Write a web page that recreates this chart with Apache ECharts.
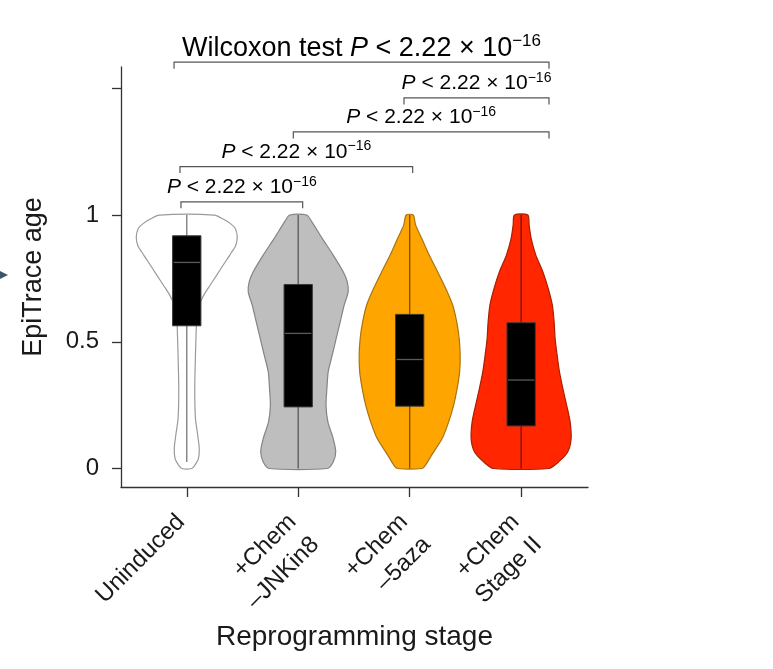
<!DOCTYPE html>
<html><head><meta charset="utf-8">
<script src="https://cdn.jsdelivr.net/npm/echarts@6/dist/echarts.min.js"></script>
<style>html,body{margin:0;padding:0;background:#fff}#c{width:773px;height:669px}</style>
</head><body><div id="c"></div>
<script>
// ---- data ----
const categories = ['Uninduced', '+Chem\n\u2013JNKin8', '+Chem\n\u20135aza', '+Chem\nStage II'];
const yTickValues = [0, 0.5, 1, 1.5];
const yLabelValues = [0, 0.5, 1];

// violin outlines: [EpiTrace age, relative density width]
const profileUninduced = [[1.0,27.5],[0.985,36],[0.965,44],[0.947,48.5],[0.914,50.5],[0.88,49],[0.842,43],[0.803,36.5],[0.763,30],[0.724,23.5],[0.684,17],[0.645,12.5],[0.6,10],[0.553,9.5],[0.447,8.7],[0.316,8],[0.197,8.7],[0.13,11],[0.079,12.5],[0.039,11.7],[0.012,8],[0,5]];
const profileJNKin8 = [[1.0,8.5],[0.974,13.5],[0.908,24],[0.842,35],[0.776,45],[0.737,49],[0.697,50],[0.645,46],[0.579,42],[0.513,38],[0.447,34],[0.382,30],[0.316,28.7],[0.25,27.8],[0.184,29.7],[0.118,35],[0.066,37.5],[0.026,35],[0,29]];
const profile5aza = [[1.0,3.5],[0.96,6],[0.908,12],[0.842,19.5],[0.776,28],[0.711,36],[0.645,43],[0.579,47],[0.513,49.5],[0.447,50.5],[0.382,50],[0.316,47.5],[0.25,44],[0.184,39],[0.118,32.5],[0.053,22],[0.013,15.8],[0,12.5]];
const profileStageII = [[1.0,6.7],[0.96,8],[0.908,10],[0.842,14.7],[0.776,21.7],[0.711,27],[0.645,31.2],[0.579,33],[0.513,34],[0.447,36],[0.382,38.3],[0.316,41.7],[0.25,45.5],[0.184,49],[0.118,50],[0.066,46.7],[0.026,37.5],[0,27.5]];

// box stats: [lower whisker, Q1, median, Q3, upper whisker]
const boxUninduced = [0.026, 0.563, 0.813, 0.918, 1.0];
const boxJNKin8 = [0, 0.243, 0.533, 0.726, 1.0];
const box5aza = [0, 0.246, 0.430, 0.608, 1.0];
const boxStageII = [0, 0.168, 0.349, 0.575, 1.0];

// significance brackets
const bracketFrom = [0.886, 2.949, 1.956, 0.939, 0.948];
const bracketTo = [4.25, 4.25, 4.25, 3.027, 2.04];
const bracketLevel = [1.603, 1.462, 1.328, 1.191, 1.052];
const bracketPrefix = ['Wilcoxon test ', '', '', '', ''];
const pText = ' < 2.22 \u00d7 10';
const pExponent = '\u221216';

// ---- styles ----
const profiles = [profileUninduced, profileJNKin8, profile5aza, profileStageII];
const boxes = [boxUninduced, boxJNKin8, box5aza, boxStageII];
const fills = ['#ffffff', '#bebebe', '#ffa500', '#ff2600'];
const strokes = ['#9a9a9a', '#858585', '#a87412', '#a82000'];
const violinHalf = 0.453;
const boxHalf = 0.127;
const FONT = 'Liberation Sans, Arial, sans-serif';
const TXT = '#1a1a1a';

const chart = echarts.init(document.getElementById('c'), null, {renderer: 'canvas'});

function violinItem(params, api) {
  const i = params.dataIndex;
  const xc = api.value(0);
  const prof = profiles[i];
  let maxD = 0;
  profiles.forEach(p => p.forEach(r => { if (r[1] > maxD) maxD = r[1]; }));
  const right = prof.map(r => api.coord([xc + r[1] / maxD * violinHalf, r[0]]));
  const left = prof.slice().reverse().map(r => api.coord([xc - r[1] / maxD * violinHalf, r[0]]));
  return {
    type: 'polygon',
    shape: {points: right.concat(left), smooth: 0.25},
    style: {fill: fills[i], stroke: strokes[i], lineWidth: 1.2}
  };
}

function boxItem(params, api) {
  const i = params.dataIndex;
  const xc = api.value(0);
  const b = boxes[i];
  const top = api.coord([xc, b[4]]);
  const bot = api.coord([xc, b[0]]);
  const q3l = api.coord([xc - boxHalf, b[3]]);
  const q1r = api.coord([xc + boxHalf, b[1]]);
  const ml = api.coord([xc - boxHalf, b[2]]);
  const mr = api.coord([xc + boxHalf, b[2]]);
  return {
    type: 'group',
    children: [
      {type: 'line', shape: {x1: top[0], y1: top[1], x2: bot[0], y2: bot[1]},
       style: {stroke: 'rgba(0,0,0,0.5)', lineWidth: 1.4}},
      {type: 'rect', shape: {x: q3l[0], y: q3l[1], width: q1r[0] - q3l[0], height: q1r[1] - q3l[1]},
       style: {fill: '#000', stroke: '#3a3a3a', lineWidth: 1}},
      {type: 'line', shape: {x1: ml[0] + 1, y1: ml[1], x2: mr[0] - 1, y2: mr[1]},
       style: {stroke: '#5a5a5a', lineWidth: 1.3}}
    ]
  };
}

function bracketItem(params, api) {
  const i = params.dataIndex;
  const big = bracketPrefix[i] !== '';
  const a = api.coord([bracketFrom[i], bracketLevel[i]]);
  const b = api.coord([bracketTo[i], bracketLevel[i]]);
  const drop = 6.5;
  const fs = big ? 27 : 21;
  const ss = big ? 17 : 14;
  const rich = {
    n: {fontSize: fs, fontFamily: FONT, color: TXT, lineHeight: fs + 4},
    i: {fontSize: fs, fontFamily: FONT, fontStyle: 'italic', color: TXT, lineHeight: fs + 4},
    s: {fontSize: ss, fontFamily: FONT, color: TXT, lineHeight: ss, verticalAlign: 'top'}
  };
  let str = '';
  if (big) str += '{n|' + bracketPrefix[i] + '}';
  str += '{i|P}{n|' + pText + '}{s|' + pExponent + '}';
  return {
    type: 'group',
    children: [
      {type: 'polyline', shape: {points: [[a[0], a[1] + drop], [a[0], a[1]], [b[0], b[1]], [b[0], b[1] + drop]]},
       style: {stroke: '#555', lineWidth: 1.2, fill: null}},
      {type: 'text', x: (a[0] + b[0]) / 2, y: a[1] + (big ? 2 : -2),
       style: {text: str, rich: rich, align: 'center', verticalAlign: 'bottom'}}
    ]
  };
}

const option = {
  animation: false,
  backgroundColor: '#fff',
  grid: {left: 121, right: 185, top: 67, bottom: 182, containLabel: false, outerBoundsMode: 'none'},
  xAxis: {
    type: 'value', min: 0.41, max: 4.6,
    name: 'Reprogramming stage', nameLocation: 'middle', nameGap: 136,
    nameTextStyle: {fontSize: 28, fontFamily: FONT, color: TXT},
    axisLine: {show: true, onZero: false, lineStyle: {color: '#333', width: 1.3}},
    axisTick: {show: true, length: 10, customValues: [1, 2, 3, 4], lineStyle: {color: '#333', width: 1.3}},
    axisLabel: {customValues: [1, 2, 3, 4], formatter: v => categories[Math.round(v) - 1],
      rotate: 45, fontSize: 24, lineHeight: 32, fontFamily: FONT, color: TXT, margin: 3,
      verticalAlign: 'top', padding: [0, 24, 0, 0]},
    splitLine: {show: false}
  },
  yAxis: {
    type: 'value', min: -0.073, max: 1.584,
    name: 'EpiTrace age', nameLocation: 'middle', nameGap: 74, nameRotate: 90,
    nameTextStyle: {fontSize: 27, fontFamily: FONT, color: TXT},
    axisLine: {show: true, onZero: false, lineStyle: {color: '#333', width: 1.3}},
    axisTick: {show: true, length: 9, customValues: yTickValues, lineStyle: {color: '#333', width: 1.3}},
    axisLabel: {customValues: yLabelValues, formatter: v => String(v), fontSize: 24, fontFamily: FONT, color: TXT, margin: 22},
    splitLine: {show: false}
  },
  graphic: [{type: 'polygon', shape: {points: [[0, 271], [8, 275], [0, 279]]}, style: {fill: '#3f5366'}}],
  series: [
    {type: 'custom', name: 'violin', renderItem: violinItem, data: categories.map((c, i) => [i + 1]), clip: false, z: 2},
    {type: 'custom', name: 'box', renderItem: boxItem, data: categories.map((c, i) => [i + 1]), clip: false, z: 3},
    {type: 'custom', name: 'brackets', renderItem: bracketItem, data: bracketLevel.map((v, i) => [bracketFrom[i], v]), clip: false, z: 4}
  ]
};
chart.setOption(option);
</script></body></html>
